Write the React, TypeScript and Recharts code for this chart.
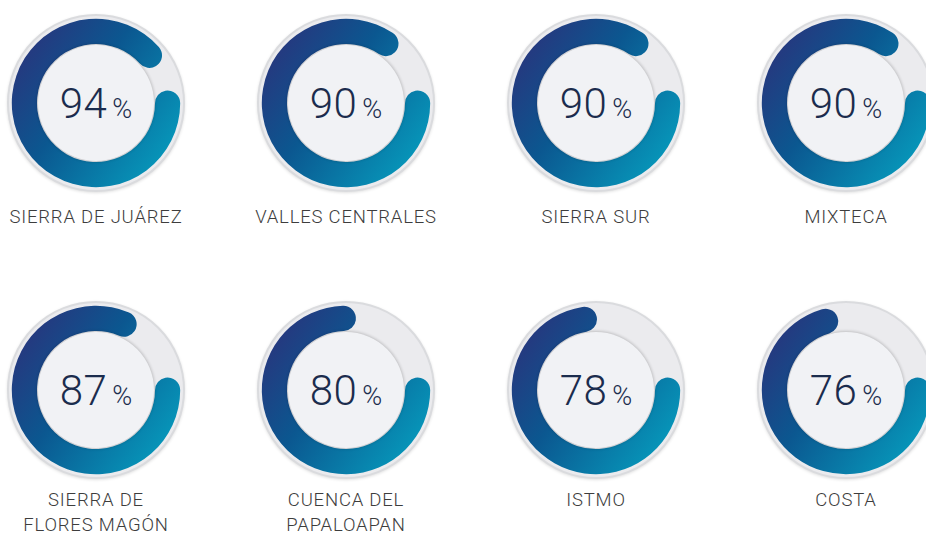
import { RadialBarChart, RadialBar, PolarAngleAxis } from 'recharts';

const regions = [
    'SIERRA DE JUÁREZ',
    'VALLES CENTRALES',
    'SIERRA SUR',
    'MIXTECA',
    'SIERRA DE\nFLORES MAGÓN',
    'CUENCA DEL\nPAPALOAPAN',
    'ISTMO',
    'COSTA',
];
const values = [94, 90, 90, 90, 87, 80, 78, 76];

const COL_X = [96, 346, 596, 846];
const ROW_Y = [103, 390];
const LABEL_TOP = [205, 488];
const SIZE = 190;
const FONT = "Roboto, 'Open Sans', sans-serif";

const Gauge = ({ index }: { index: number }) => {
    const cx = COL_X[index % 4];
    const cy = ROW_Y[Math.floor(index / 4)];
    const data = [{ name: regions[index], value: values[index] }];
    const gid = `gauge-grad-${index}`;
    return (
        <>
            {/* grey track */}
            <div
                style={{
                    position: 'absolute',
                    left: cx - 89,
                    top: cy - 89,
                    width: 178,
                    height: 178,
                    borderRadius: '50%',
                    background: '#ebebee',
                    boxSizing: 'border-box',
                    border: '2px solid #dadbde',
                    boxShadow: '0 1px 3px rgba(0,0,0,0.12)',
                }}
            />
            <div style={{ position: 'absolute', left: cx - SIZE / 2, top: cy - SIZE / 2 }}>
                <RadialBarChart
                    width={SIZE}
                    height={SIZE}
                    cx={SIZE / 2}
                    cy={SIZE / 2}
                    innerRadius={58}
                    outerRadius={86}
                    barSize={28}
                    startAngle={10}
                    endAngle={-350}
                    data={data}
                    margin={{ top: 0, right: 0, bottom: 0, left: 0 }}
                >
                    <defs>
                        <linearGradient id={gid} gradientUnits="userSpaceOnUse" x1={5} y1={20} x2={185} y2={150}>
                            <stop offset="0%" stopColor="#302c78" />
                            <stop offset="45%" stopColor="#0b5790" />
                            <stop offset="100%" stopColor="#06a0c0" />
                        </linearGradient>
                    </defs>
                    <PolarAngleAxis type="number" domain={[0, 100]} tick={false} axisLine={false} />
                    <RadialBar dataKey="value" cornerRadius={14} fill={`url(#${gid})`} isAnimationActive={false} />
                </RadialBarChart>
            </div>
            {/* inner disc */}
            <div
                style={{
                    position: 'absolute',
                    left: cx - 58,
                    top: cy - 58,
                    width: 116,
                    height: 116,
                    borderRadius: '50%',
                    background: '#f1f2f5',
                    boxShadow: '0 0 3px 1px rgba(0,0,0,0.18)',
                }}
            />
            <div
                style={{
                    position: 'absolute',
                    left: cx - 58,
                    top: cy - 58,
                    width: 116,
                    height: 116,
                    display: 'flex',
                    alignItems: 'center',
                    justifyContent: 'center',
                    fontFamily: FONT,
                    fontWeight: 300,
                    color: '#1b2c4d',
                }}
            >
                <div style={{ display: 'flex', alignItems: 'baseline', marginTop: 2 }}>
                    <span style={{ fontSize: 42, lineHeight: 1, letterSpacing: 0.5 }}>{values[index]}</span>
                    <span style={{ fontSize: 27, lineHeight: 1, marginLeft: 5 }}>%</span>
                </div>
            </div>
            <div
                style={{
                    position: 'absolute',
                    left: cx - 120,
                    top: LABEL_TOP[Math.floor(index / 4)],
                    width: 240,
                    textAlign: 'center',
                    whiteSpace: 'pre-line',
                    fontFamily: FONT,
                    fontWeight: 300,
                    fontSize: 18.5,
                    letterSpacing: 0.8,
                    lineHeight: '25px',
                    color: '#3d3d3d',
                }}
            >
                {regions[index]}
            </div>
        </>
    );
};

const App = () => {
    return (
        <div
            style={{
                position: 'absolute',
                left: 0,
                top: 0,
                width: 926,
                height: 536,
                overflow: 'hidden',
                background: '#ffffff',
            }}
        >
            {values.map((_, i) => (
                <Gauge key={`gauge-${i}`} index={i} />
            ))}
        </div>
    );
};

export default App;
